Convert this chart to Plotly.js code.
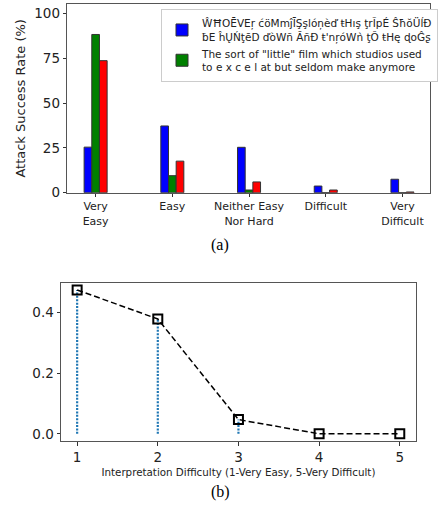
<!DOCTYPE html>
<html>
<head>
<meta charset="utf-8">
<script src="https://cdn.plot.ly/plotly-3.0.1.min.js"></script>
<style>html,body{margin:0;padding:0;background:#fff;}#chart{width:438px;height:518px;}</style>
</head>
<body>
<div id="chart"></div>
<script>
// ---- Data (panel a) ----
const categories = ["Very<br>Easy", "Easy", "Neither Easy<br>Nor Hard", "Difficult", "Very<br>Difficult"];
const blueValues = [25.4, 37.2, 25.3, 3.7, 7.5];
const greenValues = [88.2, 9.5, 1.5, 0, 0];
const redValues = [73.6, 17.6, 6.0, 1.5, 0.4];
const blueName = "ŴĦOĒVEŗ ćöMmĵĪŞşlóņèď ŧHış ţrĨpÉ ŜħŏÜĺĐ<br>ƀE ĥŲŃţēD ďòWñ ĂñĐ ŧ'nŗóWǹ ţŎ ŧHę ɖoĜʂ";
const greenName = "The sort of \"little\" film which studios used<br>to e x c e l at but seldom make anymore";
const yTicksA = [0, 25, 50, 75, 100];

// ---- Data (panel b) ----
const difficulty = [1, 2, 3, 4, 5];
const probability = [0.475, 0.379, 0.047, 0.0, 0.0];
const yTicksB = [0.0, 0.2, 0.4];
const xTitleB = "Interpretation Difficulty (1-Very Easy, 5-Very Difficult)";

// stems built from data
const stemX = [], stemY = [];
difficulty.forEach((d, i) => { stemX.push(d, d, null); stemY.push(0, probability[i], null); });

const font = "DejaVu Sans, sans-serif";
const edge = {color: "#333", width: 1};

const traces = [
  {type: "bar", x: categories, y: blueValues, name: blueName, marker: {color: "#0000ff", line: edge}, xaxis: "x", yaxis: "y"},
  {type: "bar", x: categories, y: greenValues, name: greenName, marker: {color: "#008000", line: edge}, xaxis: "x", yaxis: "y"},
  {type: "bar", x: categories, y: redValues, name: "red", showlegend: false, marker: {color: "#ff0000", line: edge}, xaxis: "x", yaxis: "y"},
  {type: "scatter", mode: "lines", x: stemX, y: stemY, showlegend: false, line: {color: "#1f77b4", dash: "2px,1.4px", width: 2.2}, xaxis: "x2", yaxis: "y2", cliponaxis: false},
  {type: "scatter", mode: "lines+markers", x: difficulty, y: probability, showlegend: false,
   line: {color: "#000", dash: "6px,3px", width: 1.5},
   marker: {symbol: "square-open", size: 9, color: "#000", line: {width: 2, color: "#000"}},
   xaxis: "x2", yaxis: "y2", cliponaxis: false}
];

const axisCommon = {showline: true, mirror: true, linecolor: "#555", linewidth: 1, ticks: "outside", ticklen: 3.5, tickcolor: "#333", showgrid: false, zeroline: false};

const layout = {
  width: 438, height: 518,
  margin: {l: 0, r: 0, t: 0, b: 0},
  paper_bgcolor: "#fff", plot_bgcolor: "#fff",
  font: {family: font, color: "#222"},
  barmode: "group", bargap: 0.7, bargroupgap: 0,
  showlegend: true,
  legend: {x: 0.372, y: 0.983, xanchor: "left", yanchor: "top", bgcolor: "#fff", bordercolor: "#ccc", borderwidth: 1,
           font: {size: 10.5, family: font, color: "#222"}, tracegroupgap: 0},
  xaxis: Object.assign({}, axisCommon, {domain: [0.1553, 0.9932], anchor: "y", type: "category", range: [-0.37, 4.36],
          tickfont: {size: 11, family: font}}),
  yaxis: Object.assign({}, axisCommon, {domain: [0.628, 0.9923], anchor: "x", range: [0, 105.2], tickvals: yTicksA,
          tickfont: {size: 13.5, family: font}, title: {text: "Attack Success Rate (%)", font: {size: 13, family: font}, standoff: 5}}),
  xaxis2: Object.assign({}, axisCommon, {domain: [0.1409, 0.9605], anchor: "y2", range: [0.8, 5.2], tickvals: difficulty,
          tickfont: {size: 13.5, family: font}, title: {text: xTitleB, font: {size: 10.3, family: font}, standoff: 5}}),
  yaxis2: Object.assign({}, axisCommon, {domain: [0.1486, 0.4542], anchor: "x2", range: [-0.02375, 0.49875], tickvals: yTicksB,
          ticktext: yTicksB.map(v => v.toFixed(1)), tickfont: {size: 13.5, family: font}}),
  annotations: [
    {text: "(a)", xref: "paper", yref: "paper", x: 223 / 438, y: (518 - 245) / 518, showarrow: false, font: {family: "Liberation Serif, serif", size: 16, color: "#000"}},
    {text: "(b)", xref: "paper", yref: "paper", x: 223 / 438, y: (518 - 503) / 518, showarrow: false, font: {family: "Liberation Serif, serif", size: 16, color: "#000"}}
  ]
};

Plotly.newPlot("chart", traces, layout, {displayModeBar: false, staticPlot: true});
</script>
</body>
</html>
